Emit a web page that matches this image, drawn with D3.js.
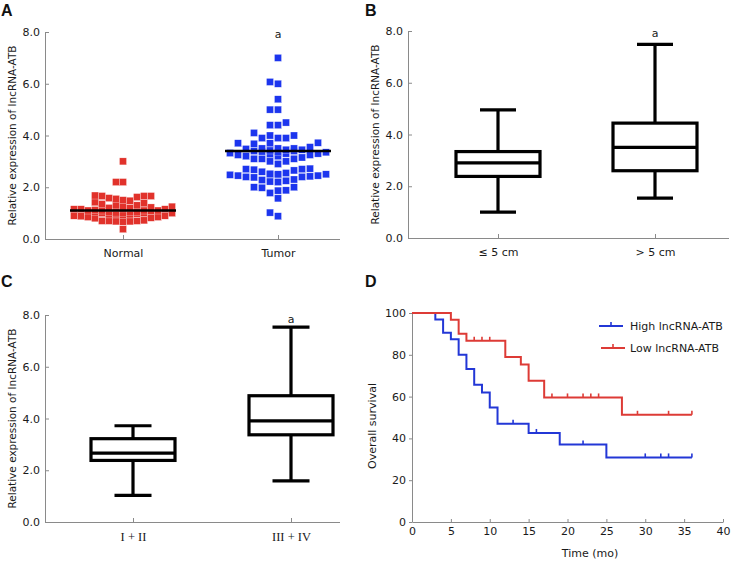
<!DOCTYPE html>
<html><head><meta charset="utf-8">
<script src="https://cdn.jsdelivr.net/npm/d3@7"></script>
<style>body{margin:0;background:#fff}svg{display:block}</style>
</head><body>
<svg id="c" width="736" height="564"></svg>
<script>
// ---------- DATA ----------
const scatterCats = ["Normal", "Tumor"];
const normalValues = [3.0, 2.2, 2.2, 1.68, 1.66, 1.66, 1.66, 1.62, 1.58, 1.55, 1.5, 1.48, 1.42, 1.38, 1.35, 1.3, 1.3,
  1.25, 1.25, 1.22, 1.2, 1.2, 1.2, 1.18, 1.15, 1.15, 1.15, 1.12, 1.1, 1.1, 1.1, 1.1, 1.08, 1.05, 1.05, 1.05, 1.05,
  1.02, 1.0, 1.0, 1.0, 1.0, 0.98, 0.95, 0.95, 0.95, 0.92, 0.9, 0.9, 0.88, 0.85, 0.85, 0.82, 0.8,
  0.72, 0.7, 0.7, 0.68, 0.68, 0.67, 0.7, 0.38];
const tumorValues = [7.0, 6.07, 6.0, 5.4, 5.0, 5.0, 4.5, 4.4, 4.4, 4.1, 4.0, 4.0, 3.9, 3.9, 3.9,
  3.72, 3.7, 3.7, 3.68, 3.55, 3.5, 3.5, 3.5, 3.48, 3.45, 3.45, 3.42, 3.4, 3.4, 3.38, 3.35, 3.35, 3.32, 3.3, 3.3,
  3.28, 3.25, 3.25, 3.2, 3.2, 3.15, 3.1, 3.1, 3.1, 3.0, 3.0, 2.9, 2.72, 2.7, 2.7, 2.68, 2.65, 2.6,
  2.55, 2.52, 2.5, 2.5, 2.5, 2.48, 2.48, 2.45, 2.45, 2.42, 2.4, 2.4, 2.38, 2.3, 2.28, 2.25, 2.22, 2.2,
  2.0, 2.0, 1.98, 1.88, 1.87, 1.78, 1.57, 1.02, 0.88];
const scatterMeans = [1.1, 3.4];

const sizeCats = ["\u2264 5 cm", "> 5 cm"];
const sizeBoxes = [
  {min: 1.0, q1: 2.38, median: 2.9, q3: 3.34, max: 4.95},
  {min: 1.54, q1: 2.6, median: 3.5, q3: 4.44, max: 7.48}
];
const stageCats = ["I + II", "III + IV"];
const stageBoxes = [
  {min: 1.03, q1: 2.38, median: 2.66, q3: 3.22, max: 3.72},
  {min: 1.59, q1: 3.37, median: 3.91, q3: 4.88, max: 7.53}
];
const exprTicks = [0, 2, 4, 6, 8];

const kmSeries = ["High lncRNA-ATB", "Low lncRNA-ATB"];
const highSteps = [[0,100],[3,96.9],[4,90.6],[5,87.5],[6,80],[7,73.2],[8,65.7],[9,62],[10,54.8],[11,47],[15,42.6],[19,37.1],[25,30.9]];
const highCensor = [13, 16, 22, 30, 32, 33, 36];
const lowSteps = [[0,100],[5,96.8],[6,90.1],[7,86.7],[12,78.9],[14,75.3],[15,67.6],[17,59.6],[27,51.3]];
const lowCensor = [8, 9, 10, 18, 20, 22, 23, 24, 29, 33, 36];
const kmEnd = 36;
const survTicks = [0, 20, 40, 60, 80, 100];
const timeTicks = [0, 5, 10, 15, 20, 25, 30, 35, 40];

// ---------- STYLE ----------
const FONT = "'DejaVu Sans', Verdana, sans-serif";
const AX = "#8a8a8a", TXT = "#1a1a1a";
const RED = "#e1322b", BLUE = "#1c35ee";
const KRED = "#dd3b36", KBLUE = "#2337d6";
const FS = 11;

const svg = d3.select("#c");
svg.append("rect").attr("width",736).attr("height",564).attr("fill","#fff");

function panelLetter(t, x, y){
  svg.append("text").attr("x",x).attr("y",y).text(t)
    .attr("font-family","'Liberation Sans', Arial, sans-serif").attr("font-weight","bold")
    .attr("font-size",16).attr("fill","#111");
}
function styleAxis(g){
  g.selectAll("path,line").attr("stroke",AX).attr("stroke-width",1);
  g.selectAll("text").attr("font-family",FONT).attr("font-size",FS).attr("fill",TXT);
}

function exprFrame(opt){
  const y = d3.scaleLinear().domain([0,8]).range([opt.bottom, opt.top]);
  const x = d3.scalePoint().domain(opt.cats).range(opt.catX);
  const gy = svg.append("g").attr("transform",`translate(${opt.left},0)`)
    .call(d3.axisLeft(y).tickValues(exprTicks).tickSizeInner(-4).tickSizeOuter(0).tickPadding(5).tickFormat(d3.format(".1f")));
  styleAxis(gy);
  svg.append("line").attr("x1",opt.left).attr("x2",opt.right).attr("y1",opt.bottom+0.5).attr("y2",opt.bottom+0.5)
    .attr("stroke",AX).attr("stroke-width",1);
  const gx = svg.append("g").attr("transform",`translate(0,${opt.bottom})`)
    .call(d3.axisBottom(x).tickSizeInner(-4).tickSizeOuter(0).tickPadding(10));
  gx.select(".domain").remove();
  styleAxis(gx);
  if(opt.serif) gx.selectAll("text").attr("font-family","'Liberation Serif','Times New Roman',serif").attr("font-size",12.5);
  svg.append("text").attr("transform",`translate(${opt.titleX},${(opt.top+opt.bottom)/2}) rotate(-90)`)
    .attr("text-anchor","middle").attr("font-family",FONT).attr("font-size",10.5).attr("fill",TXT)
    .text("Relative expression of lncRNA-ATB");
  return {x, y};
}

// ---------- PANEL A ----------
panelLetter("A", 1, 16);
const A = exprFrame({left:45, right:340, top:32, bottom:239, cats:scatterCats, catX:[123,278], titleX:16});

function swarm(values, cx, yS, gap, maxHalf){
  const sorted = values.slice().sort((a,b)=>a-b);
  const placed = [];
  sorted.forEach(v=>{
    const py = yS(v);
    let bestX = null, bestCnt = Infinity, bestOff = cx;
    for(let k=0;k<=maxHalf*2;k++){
      const off = (k%2===0?1:-1)*Math.ceil(k/2);
      const px = cx+off;
      let cnt = 0;
      for(const p of placed){ if(Math.abs(p.x-px)<gap && Math.abs(p.y-py)<gap) cnt++; }
      if(cnt===0){ bestX = px; break; }
      if(cnt<bestCnt){ bestCnt=cnt; bestOff=px; }
    }
    if(bestX===null) bestX = bestOff;
    placed.push({x:bestX, y:py, v});
  });
  return placed;
}
const SQ = 7;
[[normalValues, RED, 0, 6.4],[tumorValues, BLUE, 1, 7.2]].forEach(([vals,col,i,gap])=>{
  const pts = swarm(vals, A.x(scatterCats[i]), A.y, gap, 51);
  svg.append("g").selectAll("rect").data(pts).join("rect")
    .attr("x",d=>d.x-SQ/2).attr("y",d=>d.y-SQ/2).attr("width",SQ).attr("height",SQ)
    .attr("fill",col).attr("stroke","#fff").attr("stroke-width",0.4).attr("stroke-opacity",0.7);
});
scatterMeans.forEach((m,i)=>{
  const cx = A.x(scatterCats[i]);
  svg.append("line").attr("x1",cx-53).attr("x2",cx+53).attr("y1",A.y(m)).attr("y2",A.y(m))
    .attr("stroke","#000").attr("stroke-width",2.5);
});
svg.append("text").attr("x",A.x("Tumor")).attr("y",38).attr("text-anchor","middle")
  .attr("font-family",FONT).attr("font-size",FS).attr("fill",TXT).text("a");

// ---------- BOX PANELS ----------
function boxes(fr, cats, data, boxW, capW){
  cats.forEach((c,i)=>{
    const d = data[i], cx = fr.x(c), g = svg.append("g").attr("stroke","#000").attr("stroke-width",3.2).attr("fill","none");
    g.append("line").attr("x1",cx).attr("x2",cx).attr("y1",fr.y(d.max)).attr("y2",fr.y(d.q3));
    g.append("line").attr("x1",cx).attr("x2",cx).attr("y1",fr.y(d.q1)).attr("y2",fr.y(d.min));
    g.append("line").attr("x1",cx-capW/2).attr("x2",cx+capW/2).attr("y1",fr.y(d.max)).attr("y2",fr.y(d.max));
    g.append("line").attr("x1",cx-capW/2).attr("x2",cx+capW/2).attr("y1",fr.y(d.min)).attr("y2",fr.y(d.min));
    g.append("rect").attr("x",cx-boxW/2).attr("y",fr.y(d.q3)).attr("width",boxW).attr("height",fr.y(d.q1)-fr.y(d.q3)).attr("fill","#fff");
    g.append("line").attr("x1",cx-boxW/2).attr("x2",cx+boxW/2).attr("y1",fr.y(d.median)).attr("y2",fr.y(d.median));
  });
}
panelLetter("B", 365, 16);
const B = exprFrame({left:408, right:729, top:31, bottom:238, cats:sizeCats, catX:[498,655], titleX:379});
boxes(B, sizeCats, sizeBoxes, 84, 36);
svg.append("text").attr("x",B.x(sizeCats[1])).attr("y",37).attr("text-anchor","middle")
  .attr("font-family",FONT).attr("font-size",FS).attr("fill",TXT).text("a");

panelLetter("C", 1, 287);
const C = exprFrame({left:45, right:340, top:315, bottom:522, cats:stageCats, catX:[133,291], titleX:16, serif:true});
boxes(C, stageCats, stageBoxes, 84, 37);
svg.append("text").attr("x",C.x(stageCats[1])).attr("y",323).attr("text-anchor","middle")
  .attr("font-family",FONT).attr("font-size",FS).attr("fill",TXT).text("a");

// ---------- PANEL D ----------
panelLetter("D", 365, 287);
const dx = d3.scaleLinear().domain([0,40]).range([412,723]);
const dy = d3.scaleLinear().domain([0,100]).range([522,313]);
const gdy = svg.append("g").attr("transform","translate(412,0)")
  .call(d3.axisLeft(dy).tickValues(survTicks).tickSizeInner(3).tickSizeOuter(0).tickPadding(3));
styleAxis(gdy);
const gdx = svg.append("g").attr("transform","translate(0,522)")
  .call(d3.axisBottom(dx).tickValues(timeTicks).tickSizeInner(-3).tickSizeOuter(0).tickPadding(4));
styleAxis(gdx);
gdx.selectAll("text").attr("dy","0.85em");
svg.append("text").attr("x",590).attr("y",557).attr("text-anchor","middle")
  .attr("font-family",FONT).attr("font-size",FS).attr("fill",TXT).text("Time (mo)");
svg.append("text").attr("transform","translate(376,426) rotate(-90)").attr("text-anchor","middle")
  .attr("font-family",FONT).attr("font-size",FS).attr("fill",TXT).text("Overall survival");

function survAt(steps, t){ let v = steps[0][1]; for(const s of steps){ if(s[0]<=t) v=s[1]; } return v; }
const stepLine = d3.line().x(d=>dx(d[0])).y(d=>dy(d[1])).curve(d3.curveStepAfter);
[[highSteps, highCensor, KBLUE],[lowSteps, lowCensor, KRED]].forEach(([steps,cens,col])=>{
  const pts = steps.concat([[kmEnd, steps[steps.length-1][1]]]);
  svg.append("path").attr("d",stepLine(pts)).attr("fill","none").attr("stroke",col).attr("stroke-width",2);
  svg.append("g").selectAll("line").data(cens).join("line")
    .attr("x1",d=>dx(d)).attr("x2",d=>dx(d)).attr("y1",d=>dy(survAt(steps,d))).attr("y2",d=>dy(survAt(steps,d))-4)
    .attr("stroke",col).attr("stroke-width",1.6);
});
// legend
[[kmSeries[0], KBLUE, 326],[kmSeries[1], KRED, 348]].forEach(([name,col,ly],i)=>{
  const x0 = 599 + i*2;
  svg.append("line").attr("x1",x0).attr("x2",x0+24).attr("y1",ly).attr("y2",ly).attr("stroke",col).attr("stroke-width",2);
  svg.append("line").attr("x1",x0+12).attr("x2",x0+12).attr("y1",ly).attr("y2",ly-4).attr("stroke",col).attr("stroke-width",1.6);
  svg.append("text").attr("x",630).attr("y",ly+4).attr("font-family",FONT).attr("font-size",FS).attr("fill",TXT).text(name);
});
</script>
</body></html>
